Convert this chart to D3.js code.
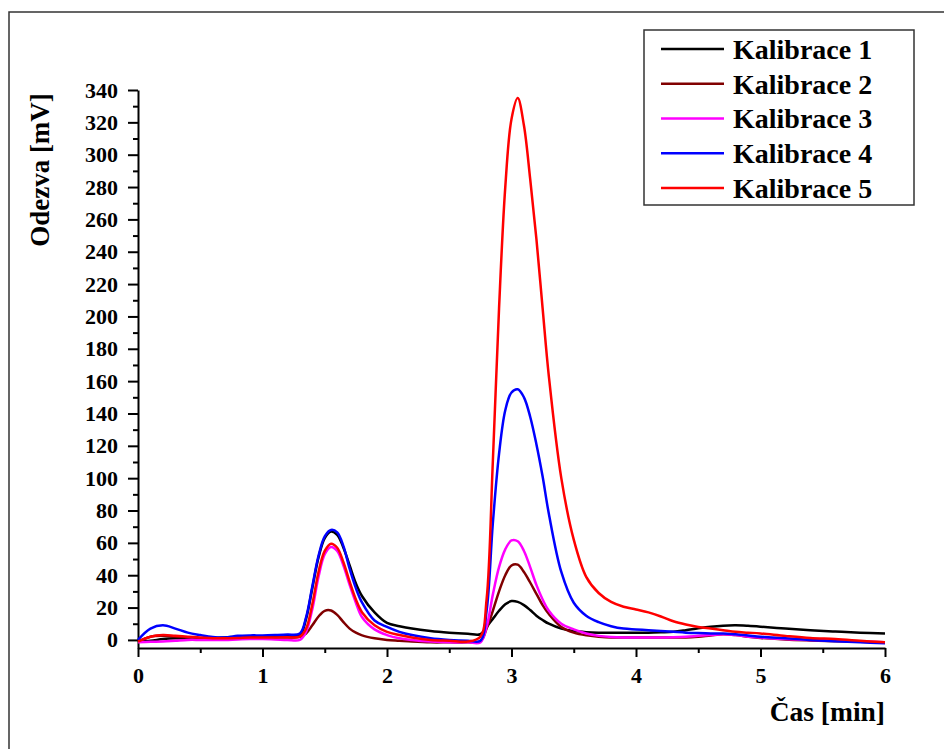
<!DOCTYPE html>
<meta charset="utf-8">
<style>
  body { margin: 0; background: #fff; }
  svg text { font-family: "Liberation Serif", "Times New Roman", serif; font-weight: bold; fill: #000; }
</style>
<body>
<script src="https://d3js.org/d3.v7.min.js"></script>
<script>
// retention time grid [min], shared by all five runs
var times = [0, 0.1, 0.2, 0.3, 0.4, 0.5, 0.6, 0.7, 0.8, 0.9, 1.0, 1.1, 1.2, 1.3,
  1.35, 1.4, 1.45, 1.5, 1.55, 1.6, 1.65, 1.7, 1.75, 1.8,
  1.9, 2.0, 2.1, 2.2, 2.35, 2.5, 2.65, 2.75,
  2.8, 2.85, 2.9, 2.95, 3.0, 3.05, 3.1, 3.15, 3.2, 3.25, 3.3,
  3.4, 3.5, 3.6, 3.7, 3.8, 3.9, 4.0, 4.1, 4.2, 4.3, 4.4, 4.5, 4.6, 4.7, 4.8, 4.9,
  5.0, 5.2, 5.4, 5.6, 5.8, 6.0];

// response [mV]
var kal1 = [-1, -0.5, 0.5, 1, 1, 1, 1.2, 1.5, 2, 2.2, 2.2, 2.3, 2.5, 3,
  13, 32, 51, 63, 67, 65, 57, 46, 35, 27,
  17, 10.5, 8.5, 7, 5.5, 4.5, 3.8, 3.5,
  8, 13, 18, 22, 24, 23.5, 21.5, 18.5, 15, 12.3, 10,
  7, 5.5, 4.8, 4.5, 4.5, 4.5, 4.5, 4.5, 4.7, 5, 6, 7.2, 8.2, 8.8, 9, 8.7,
  8.2, 7, 6, 5.2, 4.5, 4];
var kal2 = [-1, 2, 2.5, 2, 1.5, 1, 1, 1, 1, 1.2, 1.3, 1.4, 1.5, 2,
  4, 9, 14.5, 18, 18.2, 15.5, 11, 7, 4.5, 2.8,
  1, 0, -0.5, -1, -1.5, -1.5, -1.5, -1,
  7, 18, 30, 40, 46, 46.5, 42, 35.5, 28.5, 21.5, 16,
  8, 4.5, 2.8, 2, 1.5, 1.5, 1.5, 1.5, 1.5, 1.5, 1.5, 2, 2.8, 3.5, 3, 2,
  1.2, 0.3, -0.3, -0.8, -1.2, -1.5];
var kal3 = [-1.5, -1.2, -1, -0.5, 0, 0, 0, 0, 0.3, 0.5, 0.5, 0.3, 0, 0,
  5, 19, 39, 53, 57.5, 55, 46, 34, 23, 14,
  6.5, 3, 1, 0, -1, -1.5, -1.5, -1.5,
  8, 28, 45, 56, 61.5, 61, 55, 45, 34, 25, 18,
  10, 6.5, 4, 2.5, 1.8, 1.5, 1.5, 1.5, 1.5, 1.7, 2, 2.5, 3, 3.5, 3, 2,
  1.5, 0.5, 0, -0.5, -1, -1.5];
var kal4 = [0, 7, 9, 7, 4.5, 3, 1.8, 1.5, 2.5, 2.8, 2.8, 3, 3.3, 4,
  14, 33, 52, 64, 68, 66.5, 58, 44, 32, 23,
  12, 8, 5, 3, 1, 0, -0.5, -0.5,
  18, 72, 115, 142, 153, 155, 150, 138, 121, 101, 78,
  42, 23, 15, 11, 8.5, 7, 6.5, 6, 5.5, 5, 4.5, 4.2, 4, 4, 3.5, 2.8,
  2, 1, 0, -0.8, -1.5, -2];
var kal5 = [-1, 2, 3, 2.5, 2, 1.5, 1, 1, 1.2, 1.5, 1.5, 1.5, 1.6, 2,
  7, 22, 42, 55, 59.5, 57, 48, 36, 25, 17,
  9, 5, 3, 1.5, 0, -0.5, -1, 2,
  25, 110, 205, 280, 322, 335, 318, 285, 248, 205, 163,
  100, 62, 39, 29, 23.5, 20.5, 18.8, 17, 14.5, 11.5, 9.5, 8, 7, 6, 5, 4.5,
  4, 2.5, 1.2, 0.5, -0.5, -1.5];

var names = ["Kalibrace 1", "Kalibrace 2", "Kalibrace 3", "Kalibrace 4", "Kalibrace 5"];
var colors = ["#000000", "#800000", "#ff00ff", "#0000ff", "#ff0000"];
var series = [kal1, kal2, kal3, kal4, kal5];

var yMajor = d3.range(0, 341, 20);
var yMinor = d3.range(10, 340, 20);
var xMajor = [0, 1, 2, 3, 4, 5, 6];
var xMinor = [0.5, 1.5, 2.5, 3.5, 4.5, 5.5];

var W = 944, H = 749;
var svg = d3.select("body").append("svg").attr("width", W).attr("height", H);

// outer frame (runs off the right and bottom edge)
svg.append("rect").attr("x", 9).attr("y", 12).attr("width", 960).attr("height", 760)
  .attr("fill", "none").attr("stroke", "#333").attr("stroke-width", 1.5);

var x = d3.scaleLinear().domain([0, 6]).range([138, 885]);
var y = d3.scaleLinear().domain([-5, 340]).range([648, 90]);

// minor ticks first, then main axes
svg.append("g").attr("transform", "translate(138,0)")
  .call(d3.axisLeft(y).tickValues(yMinor).tickSize(5).tickFormat(""))
  .call(g => g.select(".domain").remove());
svg.append("g").attr("transform", "translate(0,648)")
  .call(d3.axisBottom(x).tickValues(xMinor).tickSize(5).tickFormat(""))
  .call(g => g.select(".domain").remove());

svg.append("g").attr("transform", "translate(138,0)")
  .call(d3.axisLeft(y).tickValues(yMajor).tickSize(10).tickSizeOuter(0).tickPadding(10));
svg.append("g").attr("transform", "translate(0,648)")
  .call(d3.axisBottom(x).tickValues(xMajor).tickSize(9).tickSizeOuter(0).tickPadding(10)
    .tickFormat(d3.format("d")));

svg.selectAll("g").attr("font-family", null);
svg.selectAll(".tick line, .domain").attr("stroke", "#000").attr("stroke-width", 2);
svg.selectAll(".tick text").style("font-size", "22px");

// curves
var line = d3.line()
  .x((d, i) => x(times[i]))
  .y(d => y(d))
  .curve(d3.curveCatmullRom.alpha(0.5));

svg.append("g").selectAll("path").data(series).join("path")
  .attr("d", line)
  .attr("fill", "none")
  .attr("stroke", (d, i) => colors[i])
  .attr("stroke-width", 2.5)
  .attr("stroke-linejoin", "round");

// axis titles
svg.append("text").attr("x", 885).attr("y", 721).attr("text-anchor", "end")
  .style("font-size", "27.5px").text("Čas [min]");
svg.append("text").attr("transform", "translate(49,170) rotate(-90)")
  .attr("text-anchor", "middle").style("font-size", "27px").text("Odezva [mV]");

// legend
var lg = svg.append("g");
lg.append("rect").attr("x", 644).attr("y", 30).attr("width", 270).attr("height", 175)
  .attr("fill", "#fff").attr("stroke", "#333").attr("stroke-width", 1.5);
var ly = d3.scalePoint().domain(names).range([49, 188]);
names.forEach(function (n, i) {
  lg.append("line").attr("x1", 661).attr("x2", 724).attr("y1", ly(n)).attr("y2", ly(n))
    .attr("stroke", colors[i]).attr("stroke-width", 2.5);
  lg.append("text").attr("x", 733).attr("y", ly(n)).attr("dy", "0.35em")
    .style("font-size", "28px").text(n);
});
</script>
</body>
